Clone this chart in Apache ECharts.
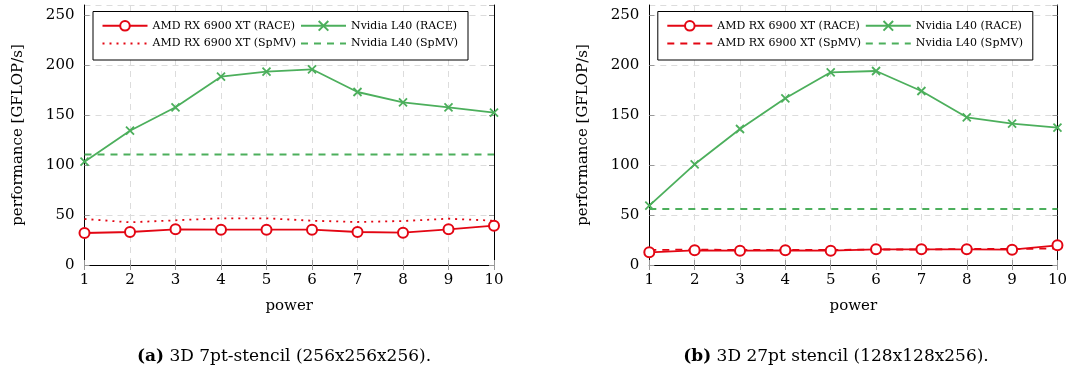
<!DOCTYPE html>
<html>
<head>
<meta charset="utf-8">
<script src="https://cdn.jsdelivr.net/npm/echarts@6/dist/echarts.min.js"></script>
<style>
  html, body { margin: 0; padding: 0; background: #fff; }
  #chart { width: 1070px; height: 367px; }
</style>
</head>
<body>
<div id="chart"></div>
<script>
// x values (power)
const powers = [1, 2, 3, 4, 5, 6, 7, 8, 9, 10]

// (a) 3D 7pt-stencil (256x256x256)
const amdRace7pt = [32, 33, 35.7, 35.3, 35.3, 35.3, 33, 32.3, 35.7, 39.3]
const amdSpmv7pt = [46, 42.7, 44.7, 46.7, 46.7, 44.3, 43, 44, 46.3, 44.3]
const nvRace7pt = [103.3, 134.3, 157.7, 188.3, 193.3, 195.7, 173, 162.7, 157.7, 152.3]
const nvSpmv7pt = [110.5, 110.5, 110.5, 110.5, 110.5, 110.5, 110.5, 110.5, 110.5, 110.5]

// (b) 3D 27pt stencil (128x128x256)
const amdRace27pt = [12.7, 14.7, 14.3, 14.7, 14.3, 15.7, 15.7, 15.7, 15.3, 19.7]
const amdSpmv27pt = [15, 15.5, 15, 15, 15, 15.5, 15.5, 16, 16, 16.5]
const nvRace27pt = [59.3, 100.7, 136, 166.7, 192.7, 194, 174, 147.7, 141.3, 137.3]
const nvSpmv27pt = [56, 56, 56, 56, 56, 56, 56, 56, 56, 56]

const yTicks = { min: 0, max: 260, interval: 50 }
const captions = ['3D 7pt-stencil (256x256x256).', '3D 27pt stencil (128x128x256).']
const captionTags = ['(a)', '(b)']

const RED = '#e30613'
const GREEN = '#4caf5c'
const FONT = 'DejaVu Serif'

const gridLefts = [84.5, 649.3]
const gridWidth = 409.5
const gridTop = 5
const gridHeight = 260

const pairs = (vals) => powers.map((p, i) => [p, vals[i]])
const tag = (k, name) => (k === 0 ? name : 'b:' + name)

const tickStyle = { show: true, inside: true, length: 5, lineStyle: { color: '#999', width: 1 } }
const lineAxis = { show: true, lineStyle: { color: '#000', width: 1 } }

const xAxes = []
const yAxes = []
const series = []
const legends = []
const titles = []
const boxes = []

const panels = [
  { amdRace: amdRace7pt, amdSpmv: amdSpmv7pt, nvRace: nvRace7pt, nvSpmv: nvSpmv7pt, amdSpmvType: [2, 5] },
  { amdRace: amdRace27pt, amdSpmv: amdSpmv27pt, nvRace: nvRace27pt, nvSpmv: nvSpmv27pt, amdSpmvType: [7, 6] }
]

panels.forEach((p, k) => {
  // bottom / left axes carry labels and grid, top / right only ticks
  xAxes.push({
    gridIndex: k, type: 'value', position: 'bottom', min: 1, max: 10, interval: 1,
    axisLine: lineAxis, axisTick: tickStyle,
    axisLabel: { color: '#000', fontFamily: FONT, fontSize: 15, margin: 8 },
    splitLine: { show: true, lineStyle: { color: '#dcdcdc', type: [6, 5], width: 1 } },
    name: 'power', nameLocation: 'middle', nameGap: 34,
    nameTextStyle: { color: '#000', fontFamily: FONT, fontSize: 15 }
  })
  xAxes.push({
    gridIndex: k, type: 'value', position: 'top', min: 1, max: 10, interval: 1,
    axisLine: lineAxis, axisTick: tickStyle, axisLabel: { show: false }, splitLine: { show: false }
  })
  yAxes.push({
    gridIndex: k, type: 'value', position: 'left', ...yTicks,
    axisLine: lineAxis, axisTick: tickStyle,
    axisLabel: { color: '#000', fontFamily: FONT, fontSize: 15, margin: 10, showMaxLabel: false },
    splitLine: { show: true, lineStyle: { color: '#dcdcdc', type: [6, 5], width: 1 } },
    name: 'performance [GFLOP/s]', nameLocation: 'middle', nameGap: 59,
    nameTextStyle: { color: '#000', fontFamily: FONT, fontSize: 15 }
  })
  yAxes.push({
    gridIndex: k, type: 'value', position: 'right', ...yTicks,
    axisLine: lineAxis, axisTick: tickStyle, axisLabel: { show: false }, splitLine: { show: false }
  })

  const xi = k * 2
  const yi = k * 2
  series.push({
    name: tag(k, 'AMD RX 6900 XT (RACE)'), type: 'line', xAxisIndex: xi, yAxisIndex: yi,
    data: pairs(p.amdRace), symbol: 'emptyCircle', symbolSize: 10,
    lineStyle: { color: RED, width: 1.8 },
    itemStyle: { color: RED, borderColor: RED, borderWidth: 2 }, z: 4
  })
  series.push({
    name: tag(k, 'Nvidia L40 (RACE)'), type: 'line', xAxisIndex: xi, yAxisIndex: yi,
    data: pairs(p.nvRace), symbol: 'path://M0,0L10,10M10,0L0,10', symbolSize: 8,
    lineStyle: { color: GREEN, width: 1.8 },
    itemStyle: { color: GREEN, borderColor: GREEN, borderWidth: 1.8 }, z: 4
  })
  series.push({
    name: tag(k, 'AMD RX 6900 XT (SpMV)'), type: 'line', xAxisIndex: xi, yAxisIndex: yi,
    data: pairs(p.amdSpmv), symbol: 'none',
    lineStyle: { color: RED, width: 1.8, type: p.amdSpmvType },
    itemStyle: { color: RED }, z: 3
  })
  series.push({
    name: tag(k, 'Nvidia L40 (SpMV)'), type: 'line', xAxisIndex: xi, yAxisIndex: yi,
    data: pairs(p.nvSpmv), symbol: 'none',
    lineStyle: { color: GREEN, width: 1.8, type: [7, 6] },
    itemStyle: { color: GREEN }, z: 3
  })

  const gl = gridLefts[k]
  const legendBase = {
    orient: 'horizontal', padding: 0, itemWidth: 45, itemHeight: 12, itemGap: 0,
    selectedMode: false, z: 8,
    textStyle: { color: '#000', fontFamily: FONT, fontSize: 11 },
    formatter: (name) => name.replace(/^b:/, '')
  }
  const noMark = { opacity: 0, borderWidth: 0 }
  legends.push({ ...legendBase, left: gl + 17, top: 20, data: [tag(k, 'AMD RX 6900 XT (RACE)')] })
  legends.push({ ...legendBase, left: gl + 215.5, top: 20, data: [tag(k, 'Nvidia L40 (RACE)')] })
  legends.push({ ...legendBase, left: gl + 17, top: 38, data: [{ name: tag(k, 'AMD RX 6900 XT (SpMV)'), itemStyle: noMark }] })
  legends.push({ ...legendBase, left: gl + 215.5, top: 38, data: [{ name: tag(k, 'Nvidia L40 (SpMV)'), itemStyle: noMark }] })

  boxes.push({
    type: 'rect', z: 7,
    shape: { x: gl + 8.5, y: 11.5, width: 375, height: 48.5 },
    style: { fill: '#fff', stroke: '#000', lineWidth: 1 }
  })

  titles.push({
    left: k === 0 ? 279 : 831, top: 343, textAlign: 'center',
    text: '{b|' + captionTags[k] + '} ' + captions[k],
    textStyle: {
      color: '#000', fontFamily: FONT, fontSize: 17, fontWeight: 'normal',
      rich: { b: { fontFamily: FONT, fontSize: 17, fontWeight: 'bold', color: '#000' } }
    }
  })
})

const chart = echarts.init(document.getElementById('chart'))
chart.setOption({
  animation: false,
  backgroundColor: '#fff',
  title: titles,
  grid: gridLefts.map((l) => ({ left: l, top: gridTop, width: gridWidth, height: gridHeight })),
  xAxis: xAxes,
  yAxis: yAxes,
  legend: legends,
  graphic: boxes,
  series: series
})
</script>
</body>
</html>
